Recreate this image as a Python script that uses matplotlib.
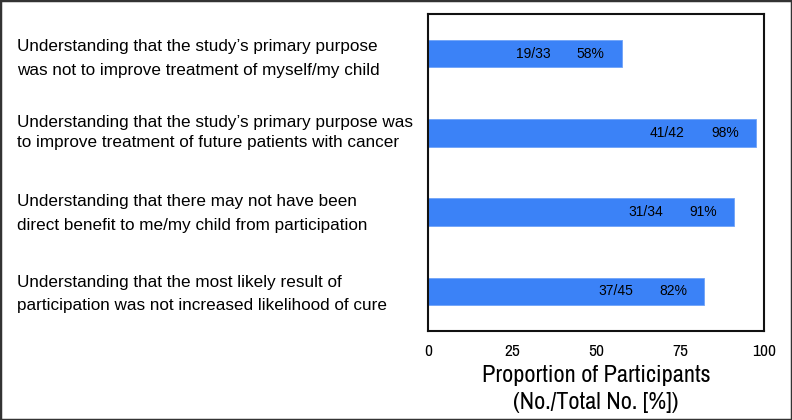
import matplotlib

matplotlib.use("Agg")
import matplotlib.pyplot as plt  # noqa: E402
from matplotlib.patches import Rectangle  # noqa: E402
from matplotlib.transforms import blended_transform_factory  # noqa: E402

# 項目（上から順、2 行ずつ）
LABELS = [
    ("Understanding that the study\u2019s primary purpose",
     "was not to improve treatment of myself/my child"),
    ("Understanding that the study\u2019s primary purpose was",
     "to improve treatment of future patients with cancer"),
    ("Understanding that there may not have been",
     "direct benefit to me/my child from participation"),
    ("Understanding that the most likely result of",
     "participation was not increased likelihood of cure"),
]
COUNTS = ["19/33", "41/42", "31/34", "37/45"]
PERCENT = [57.6, 97.6, 91.2, 82.2]
PCT_TEXT = ["58%", "98%", "91%", "82%"]
# 各行ベースラインのバー中心からのずれ（px, 下向き正）
LINE_OFFSETS = [(-3, 21), (-6.3, 14.3), (-6, 18), (-4.7, 19)]
XTICKS = [0, 25, 50, 75, 100]

BLUE = "#3b82f7"
NARROW = ["Archivo Narrow", "DejaVu Sans"]
PT = 72 / 100  # px -> pt

fig = plt.figure(figsize=(7.92, 4.2), dpi=100)
ax = fig.add_axes([0.5404, 0.2119, 0.4242, 0.7548])

y = list(range(len(LABELS)))
ax.barh(y, PERCENT, height=0.35, color=BLUE, edgecolor="#6fa3f8", linewidth=0.6)
ax.set_xlim(0, 100)
ax.set_ylim(len(LABELS) - 0.5, -0.5)

# バー内の数値（右端から内側へ）
for i, (val, cnt, pct) in enumerate(zip(PERCENT, COUNTS, PCT_TEXT)):
    ax.annotate(pct, xy=(val, i), xytext=(-12.2, 0), textcoords="offset points",
                ha="right", va="center", fontsize=10, family="Liberation Sans")
    ax.annotate(cnt, xy=(val, i), xytext=(-51.1, 0), textcoords="offset points",
                ha="right", va="center", fontsize=10, family="Liberation Sans")

# 左側の項目ラベル
tr = blended_transform_factory(fig.transFigure, ax.transData)
for i, (lines, offs) in enumerate(zip(LABELS, LINE_OFFSETS)):
    for line, off in zip(lines, offs):
        ax.annotate(line, xy=(0.0215, i), xycoords=tr, xytext=(0, -off * PT),
                    textcoords="offset points", ha="left", va="baseline",
                    fontsize=12.3, family="Liberation Sans", annotation_clip=False)

ax.set_yticks([])
ax.set_xticks(XTICKS)
ax.set_xticklabels([str(t) for t in XTICKS], family=NARROW, fontsize=12.5)
ax.tick_params(axis="x", length=0, pad=9)
for s in ax.spines.values():
    s.set_linewidth(1.5)
    s.set_color("#111111")
ax.set_xlabel("Proportion of Participants\n(No./Total No. [%])", family=NARROW,
              fontsize=17.5, linespacing=1.3, labelpad=5)

# 外枠
fig.add_artist(Rectangle((0, 0), 1, 1, transform=fig.transFigure, fill=False,
                         edgecolor="#333333", linewidth=2.5))

fig.savefig("out.png", dpi=100)
